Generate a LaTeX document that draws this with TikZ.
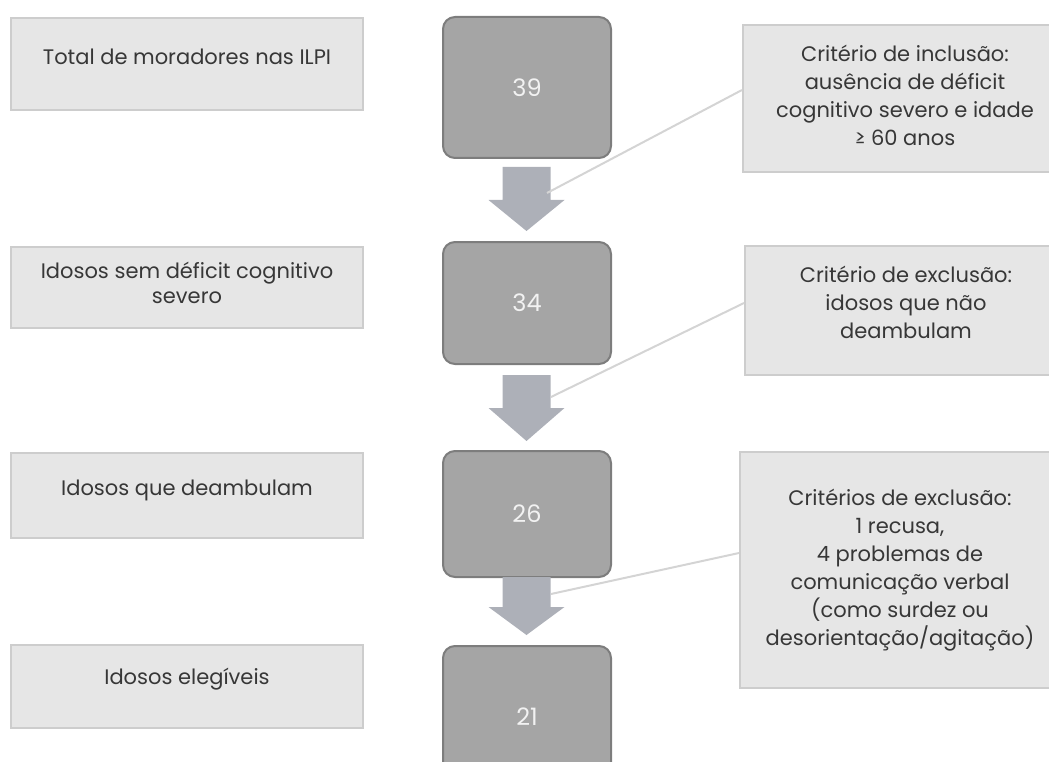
\documentclass[tikz,border=0pt]{standalone}
\usepackage{fontspec}
\setmainfont{Poppins}
\definecolor{lfill}{RGB}{230,230,230}
\definecolor{lline}{RGB}{205,205,205}
\definecolor{dfill}{RGB}{165,165,165}
\definecolor{dline}{RGB}{125,125,125}
\definecolor{afill}{RGB}{173,176,184}
\definecolor{cline}{RGB}{212,212,212}
\definecolor{txt}{RGB}{55,55,55}
\definecolor{numc}{RGB}{242,242,242}
\tikzset{
  lbox/.style={draw=lline, fill=lfill, line width=2pt, inner sep=0pt, minimum width=352pt},
  rbox/.style={draw=lline, fill=lfill, line width=2pt, inner sep=0pt},
  dbox/.style={draw=dline, fill=dfill, line width=2pt, rounded corners=12pt, inner sep=0pt, minimum width=168pt},
  btext/.style={text=txt, align=center, inner sep=0pt, font=\fontsize{21}{25}\selectfont},
  rtext/.style={text=txt, align=center, inner sep=0pt, font=\fontsize{21}{28}\selectfont},
  ntext/.style={text=numc, inner sep=0pt, font=\fontsize{24}{28}\selectfont},
  conn/.style={draw=cline, line width=2pt},
  pics/downarrow/.style args={#1/#2}{code={
    \fill[afill] (-24,0) -- (24,0) -- (24,#1) -- (38,#1) -- (0,#2) -- (-38,#1) -- (-24,#1) -- cycle;
  }}
}
\begin{document}
\begin{tikzpicture}[x=1pt,y=-1pt]
\useasboundingbox (0,0) rectangle (1049,762);
\clip (0,0) rectangle (1049,762);

% left boxes
\node[lbox, minimum height=92pt] (l1) at (187,64) {};
\node[lbox, minimum height=81pt] (l2) at (187,287.5) {};
\node[lbox, minimum height=85pt] (l3) at (187,495.5) {};
\node[lbox, minimum height=83pt] (l4) at (187,686.5) {};
\node[btext] (lt1) at ([yshift=7pt]l1.center) {Total de moradores nas ILPI};
\node[btext] (lt2) at ([yshift=5pt]l2.center) {Idosos sem déficit cognitivo\\severo};
\node[btext] (lt3) at ([yshift=5pt]l3.center) {Idosos que deambulam};
\node[btext] (lt4) at ([yshift=7pt]l4.center) {Idosos elegíveis};

% dark boxes
\node[dbox, minimum height=141pt] (d1) at (527,87.5) {};
\node[dbox, minimum height=122pt] (d2) at (527,303) {};
\node[dbox, minimum height=126pt] (d3) at (527,514) {};
\node[dbox, minimum height=142pt] (d4) at (527,717) {};
\node[ntext] (n1) at (d1.center) {39};
\node[ntext] (n2) at (d2.center) {34};
\node[ntext] (n3) at (d3.center) {26};
\node[ntext] (n4) at (d4.center) {21};

% block arrows
\coordinate (a1) at (526.5,167);
\coordinate (a2) at (526.5,375);
\coordinate (a3) at (526.5,577);
\pic at (a1) {downarrow={33/64}};
\pic at (a2) {downarrow={33/66}};
\pic at (a3) {downarrow={30/58}};

% right boxes
\node[rbox, minimum width=324pt, minimum height=147pt] (r1) at (905,98.5) {};
\node[rbox, minimum width=322pt, minimum height=129pt] (r2) at (906,310.5) {};
\node[rbox, minimum width=326pt, minimum height=236pt] (r3) at (903,570) {};
\node[rtext] (rt1) at ([yshift=3pt]r1.center) {Critério de inclusão:\\ausência de déficit\\cognitivo severo e idade\\≥ 60 anos};
\node[rtext] (rt2) at ([yshift=8pt]r2.center) {Critério de exclusão:\\idosos que não\\deambulam};
\node[rtext] (rt3) at ([xshift=-3pt]r3.center) {Critérios de exclusão:\\1 recusa,\\4 problemas de\\comunicação verbal\\(como surdez ou\\desorientação/agitação)};

% connectors
\coordinate (c1) at (547,193);
\coordinate (c2) at (551,397);
\coordinate (c3) at (551,594);
\draw[conn] (c1) -- ([yshift=8.5pt]r1.west);
\draw[conn] (c2) -- ([yshift=7.5pt]r2.west);
\draw[conn] (c3) -- ([yshift=17pt]r3.west);
\end{tikzpicture}
\end{document}
